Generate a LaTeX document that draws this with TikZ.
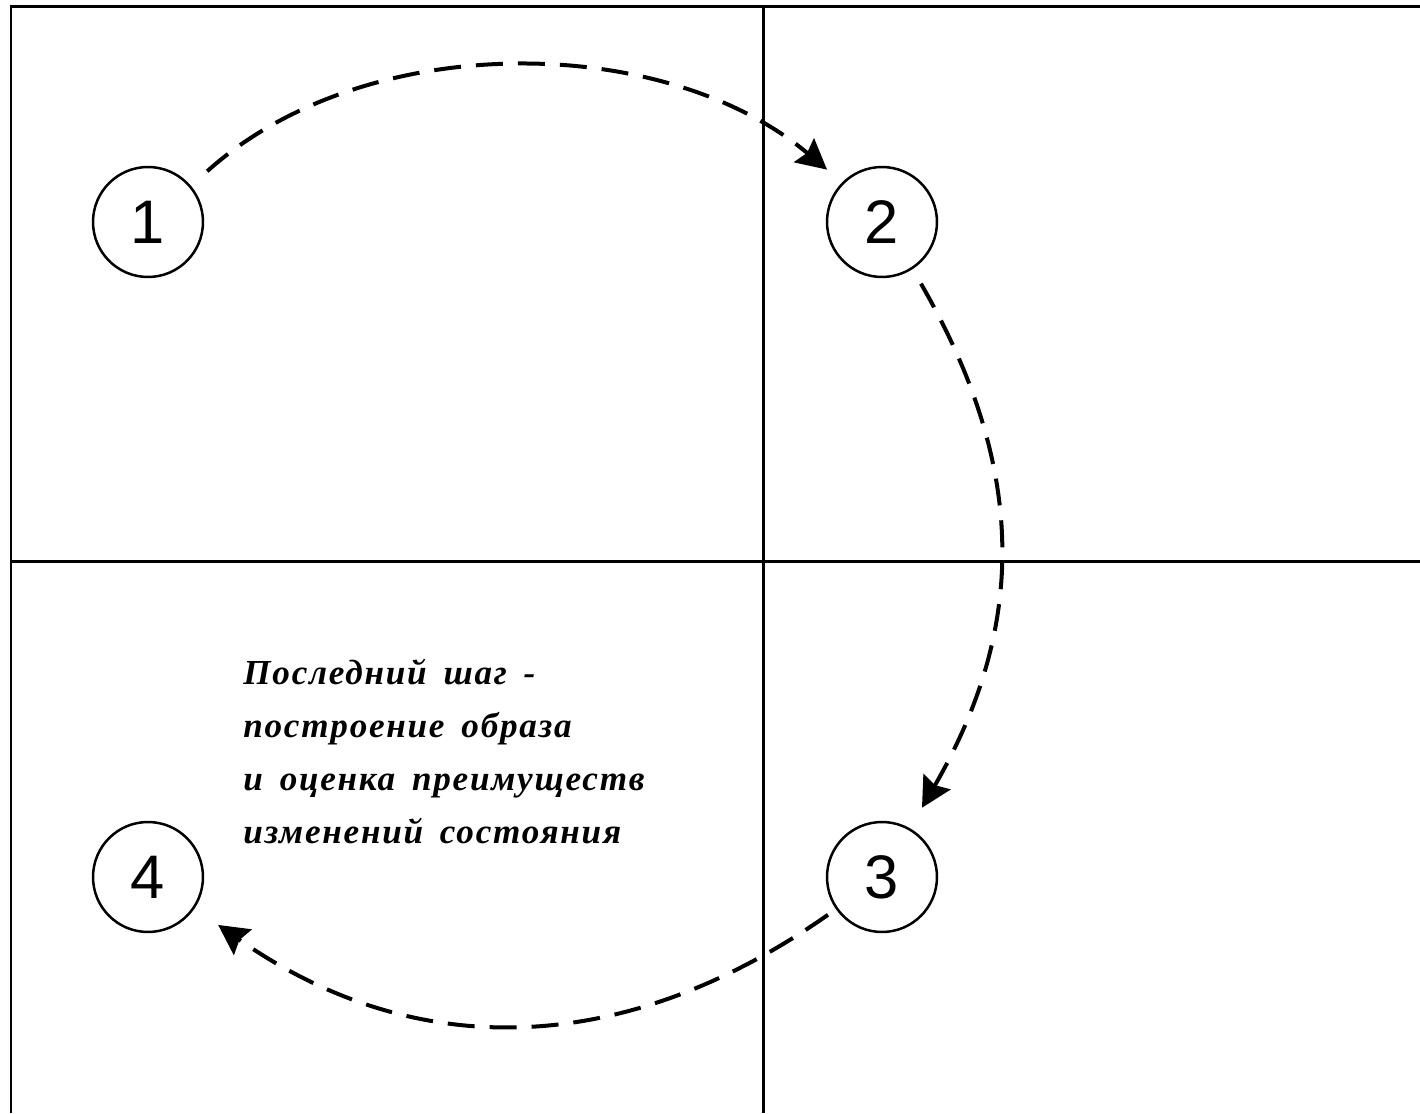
\documentclass[tikz,border=0pt]{standalone}
\usepackage{fontspec}
\setmainfont{Liberation Serif}
\newfontfamily\digitfont{Liberation Sans}
\newfontfamily\notefont[LetterSpace=5,WordSpace=1.6]{Liberation Serif}
\usetikzlibrary{arrows.meta}
\begin{document}
\begin{tikzpicture}[x=0.02cm,y=0.02cm,
    state/.style={circle,draw,line width=0.05cm,minimum size=2.2cm,
      inner sep=0pt,outer sep=0pt,font=\digitfont\fontsize{35}{35}\selectfont},
    flow/.style={line width=0.08cm,dash pattern=on 0.54cm off 0.3cm,
      -{Stealth[length=0.6cm,width=0.62cm,inset=0.08cm]}},
    note/.style={align=left,anchor=north west,inner sep=0pt,
      font=\notefont\bfseries\itshape\fontsize{20}{30.2}\selectfont}]
  \useasboundingbox (0,0) rectangle (1420,1113);
  % frame and quarters
  \draw[line width=0.06cm]
    (11,0) -- (11,1106) -- (1420,1106)
    (763,0) -- (763,1106)
    (11,551) -- (1420,551);
  \path
    (148,891) node[state] (1){1}
    (882,891) node[state] (2){2}
    (882,236) node[state] (3){3}
    (148,236) node[state] (4){4};
  \node[note] (last) at (243,454)
    {Последний шаг -\\построение образа\\и оценка преимуществ\\изменений состояния};
  \begin{scope}[flow]
    \draw[shorten <=0.46cm,shorten >=0.42cm]
      (1.40) to[out=42,in=140,looseness=0.92] (2.135);
    \draw[shorten <=0.36cm,shorten >=0.5cm]
      (2.-57) to[out=-60,in=60,looseness=1.06] (3.60);
    \draw[shorten <=0.22cm,shorten >=0.6cm]
      (3.215) to[out=215,in=-35,looseness=1.06] (4.-34);
  \end{scope}
\end{tikzpicture}
\end{document}
